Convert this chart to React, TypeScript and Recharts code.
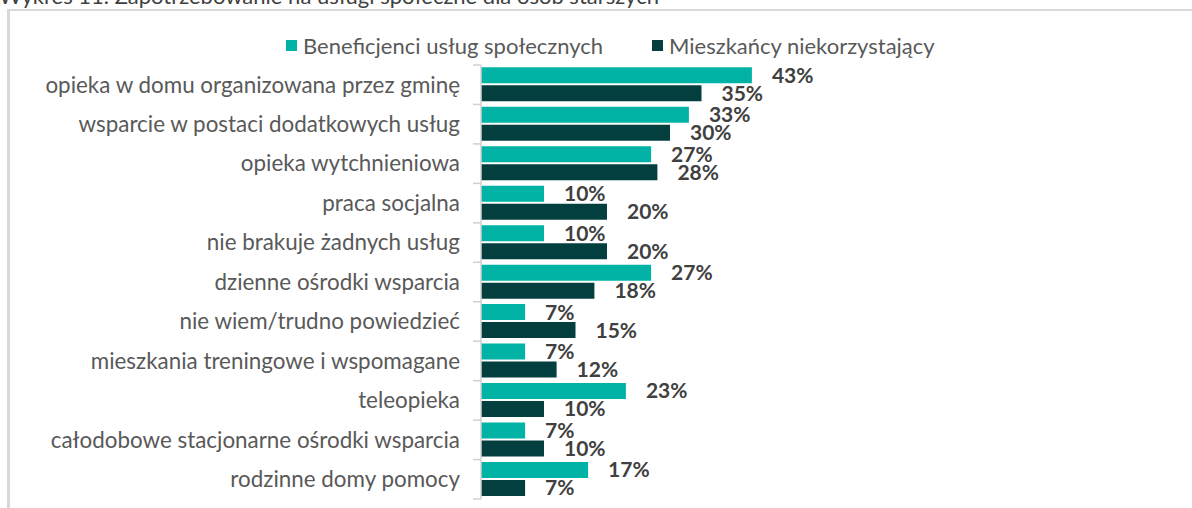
import React from 'react';
import { BarChart, Bar, XAxis, YAxis, LabelList } from 'recharts';

const categories = [
  'opieka w domu organizowana przez gminę',
  'wsparcie w postaci dodatkowych usług',
  'opieka wytchnieniowa',
  'praca socjalna',
  'nie brakuje żadnych usług',
  'dzienne ośrodki wsparcia',
  'nie wiem/trudno powiedzieć',
  'mieszkania treningowe i wspomagane',
  'teleopieka',
  'całodobowe stacjonarne ośrodki wsparcia',
  'rodzinne domy pomocy',
];
const beneficjenci = [43, 33, 27, 10, 10, 27, 7, 7, 23, 7, 17];
const mieszkancy = [35, 30, 28, 20, 20, 18, 15, 12, 10, 10, 7];
const seriesNames = ['Beneficjenci usług społecznych', 'Mieszkańcy niekorzystający'];
const seriesColors = ['#00B3A4', '#033F3F'];
const titleText = 'Wykres 11. Zapotrzebowanie na usługi społeczne dla osób starszych';

const data = categories.map((c, i) => ({ name: c, a: beneficjenci[i], b: mieszkancy[i] }));

const FONT = 'Lato, "Open Sans", sans-serif';
const PLOT_TOP = 65;
const PLOT_BOTTOM = 9;
const CHART_H = 508;
const PLOT_H = CHART_H - PLOT_TOP - PLOT_BOTTOM;
const BAND = PLOT_H / categories.length;
const TICK_SIZE = 8;
const TICK_MARGIN = 14;

function CategoryTick(props: any) {
  const { x, y, payload, index } = props;
  const lx2 = x + TICK_MARGIN + TICK_SIZE;
  const lx1 = x + TICK_MARGIN;
  return (
    <g>
      <text x={x + 1} y={y} dy="0.35em" textAnchor="end" fill="#595959" fontSize={22.4} fontFamily={FONT}>
        {payload.value}
      </text>
      <line x1={lx1} x2={lx2} y1={y - BAND / 2} y2={y - BAND / 2} stroke="#d0d0d0" strokeWidth={1.5} />
      {index === categories.length - 1 && (
        <line x1={lx1} x2={lx2} y1={y + BAND / 2} y2={y + BAND / 2} stroke="#d0d0d0" strokeWidth={1.5} />
      )}
    </g>
  );
}

function LegendBlock() {
  return (
    <div style={{ position: 'absolute', left: 286, top: 32, display: 'flex', alignItems: 'center', fontFamily: FONT, fontSize: 22, color: '#595959', whiteSpace: 'nowrap' }}>
      {seriesNames.map((n, i) => (
        <div key={n} style={{ display: 'flex', alignItems: 'center', width: i === 0 ? 366 : 'auto' }}>
          <span style={{ display: 'inline-block', width: 11, height: 11, background: seriesColors[i], marginRight: 6 }} />
          <span>{n}</span>
        </div>
      ))}
    </div>
  );
}

const labelStyle = { fontFamily: FONT, fontSize: 21, fontWeight: 700, fill: '#404040' } as any;

export default function App() {
  return (
    <div style={{ position: 'absolute', left: 0, top: 0, width: 1192, height: 508, overflow: 'hidden', background: '#fff' }}>
      <div style={{ position: 'absolute', left: -1, top: -15, fontFamily: FONT, fontSize: 22, lineHeight: '22px', color: '#404040', whiteSpace: 'nowrap' }}>
        {titleText}
      </div>
      <div style={{ position: 'absolute', left: 7, top: 9, width: 1300, height: 600, borderLeft: '3px solid #d9d9d9', borderTop: '2px solid #d9d9d9' }} />
      <div style={{ position: 'absolute', left: 0, top: 0 }}>
        <BarChart
          width={1192}
          height={CHART_H}
          data={data}
          layout="vertical"
          margin={{ top: PLOT_TOP, right: 1192 - 481 - 315, bottom: PLOT_BOTTOM, left: 0 }}
          barCategoryGap="6%"
          barGap={2}
        >
          <XAxis type="number" domain={[0, 50]} hide />
          <YAxis
            type="category"
            dataKey="name"
            width={481}
            tickSize={TICK_SIZE}
            tickMargin={TICK_MARGIN}
            tickLine={false}
            axisLine={{ stroke: '#d0d0d0', strokeWidth: 1.5 }}
            tick={<CategoryTick />}
            interval={0}
          />
          <Bar dataKey="a" name={seriesNames[0]} fill={seriesColors[0]} isAnimationActive={false}>
            <LabelList dataKey="a" position="right" offset={20} formatter={(v: any) => `${v}%`} style={labelStyle} />
          </Bar>
          <Bar dataKey="b" name={seriesNames[1]} fill={seriesColors[1]} isAnimationActive={false}>
            <LabelList dataKey="b" position="right" offset={20} formatter={(v: any) => `${v}%`} style={labelStyle} />
          </Bar>
        </BarChart>
      </div>
      <LegendBlock />
    </div>
  );
}
